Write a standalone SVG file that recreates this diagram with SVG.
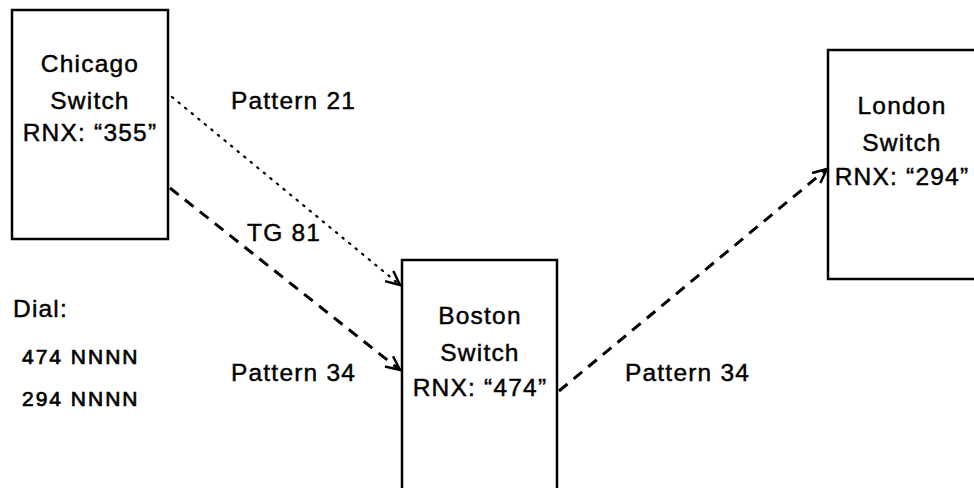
<svg xmlns="http://www.w3.org/2000/svg" width="974" height="488" viewBox="0 0 974 488">
<style>
.box{fill:#fff;stroke:#000;stroke-width:2.5}
.t{font-family:"Liberation Sans",Arial,sans-serif;font-size:24.5px;letter-spacing:1.2px;fill:#000;stroke:#000;stroke-width:0.45}
.c{text-anchor:middle}
.s{font-size:21px;letter-spacing:2px;stroke-width:0.7}
.dash{fill:none;stroke:#000;stroke-width:3;stroke-dasharray:11 8}
.dot{fill:none;stroke:#000;stroke-width:2.2;stroke-dasharray:1.5 7;stroke-linecap:round}
</style>
<defs>
<marker id="ah" markerUnits="userSpaceOnUse" viewBox="-17 -9 19 18" markerWidth="19" markerHeight="18" refX="0" refY="0" orient="auto">
<path d="M-14,-6.5 L0,0 L-14,6.5" fill="none" stroke="#000" stroke-width="2.5" stroke-dasharray="none"/>
</marker>
</defs>
<rect width="974" height="488" fill="#fff"/>
<g id="chicago">
<rect class="box" x="12" y="10" width="156" height="229"/>
<text class="t c" x="90" y="72">Chicago</text>
<text class="t c" x="90" y="109">Switch</text>
<text class="t c" x="90" y="141">RNX: “355”</text>
</g>
<g id="boston">
<rect class="box" x="402" y="260" width="155" height="240"/>
<text class="t c" x="480" y="324">Boston</text>
<text class="t c" x="480" y="361">Switch</text>
<text class="t c" x="480" y="396">RNX: “474”</text>
</g>
<g id="london">
<rect class="box" x="828" y="50" width="150" height="229"/>
<text class="t c" x="902" y="114">London</text>
<text class="t c" x="902" y="151">Switch</text>
<text class="t c" x="902" y="185">RNX: “294”</text>
</g>
<g id="connectors">
<path class="dot" d="M172,97 L400,285" marker-end="url(#ah)"/>
<path class="dash" d="M170,188 L400,370" marker-end="url(#ah)"/>
<path class="dash" d="M559,391 L827,169" marker-end="url(#ah)"/>
</g>
<g id="labels">
<text class="t" x="231" y="109">Pattern 21</text>
<text class="t" x="247" y="241">TG 81</text>
<text class="t" x="231" y="381">Pattern 34</text>
<text class="t" x="625" y="381">Pattern 34</text>
<text class="t" x="13" y="317">Dial:</text>
<text class="t s" x="22" y="364">474 NNNN</text>
<text class="t s" x="22" y="406">294 NNNN</text>
</g>
</svg>
